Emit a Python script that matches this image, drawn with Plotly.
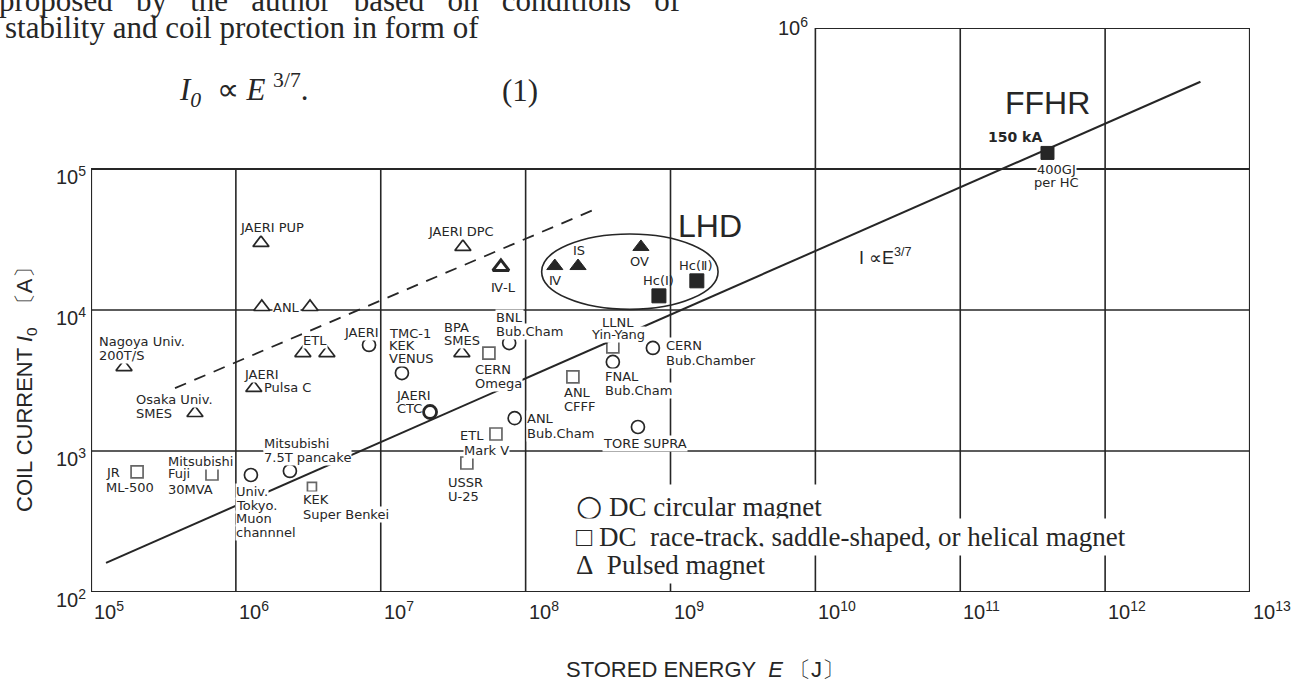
import numpy as np
import plotly.graph_objects as go

# ---------------- data ----------------
# DC circular magnets (open circles)
circ_names = ["JAERI", "TMC-1 KEK VENUS", "JAERI CTC", "BNL Bub.Cham", "FNAL Bub.Cham",
              "CERN Bub.Chamber", "ANL Bub.Cham", "TORE SUPRA", "Univ. Tokyo Muon channnel",
              "Mitsubishi 7.5T pancake"]
circ_E = [8.3e6, 1.40e7, 2.19e7, 7.7e7, 4.0e8, 7.56e8, 8.4e7, 5.96e8, 1.27e6, 2.36e6]
circ_I = [5650, 3570, 1890, 5830, 4280, 5380, 1710, 1480, 676, 722]

# DC race-track, saddle-shaped or helical magnets (open squares)
sq_names = ["CERN Omega", "LLNL Yin-Yang", "ANL CFFF", "ETL Mark V", "USSR U-25",
            "JR ML-500", "Mitsubishi Fuji 30MVA", "KEK Super Benkei"]
sq_E = [5.58e7, 4.0e8, 2.12e8, 6.24e7, 3.93e7, 2.08e5, 6.84e5, 3.35e6]
sq_I = [4950, 5470, 3350, 1320, 822, 710, 687, 556]

# Pulsed magnets (open triangles)
tri_names = ["Nagoya Univ. 200T/S", "Osaka Univ. SMES", "JAERI PUP", "ANL a", "ANL b",
             "ETL a", "ETL b", "JAERI Pulsa C", "JAERI DPC", "IV-L", "BPA SMES"]
tri_E = [1.69e5, 5.22e5, 1.49e6, 1.51e6, 3.25e6, 2.90e6, 4.25e6, 1.33e6, 3.69e7, 6.75e7, 3.63e7]
tri_I = [3940, 1860, 29900, 10500, 10500, 4950, 4950, 2800, 28000, 20200, 4950]

# LHD coils (filled)
lhd_tri_names = ["IV", "IS", "OV"]
lhd_tri_E = [1.59e8, 2.30e8, 6.25e8]
lhd_tri_I = [20500, 20500, 28000]
lhd_sq_names = ["Hc(I)", "Hc(II)"]
lhd_sq_E = [8.32e8, 1.52e9]
lhd_sq_I = [12600, 16100]

# FFHR
ffhr_E = [4.0e11]
ffhr_I = [1.3e5]

# guide lines
scaling_E = [1.27e5, 4.55e12]
scaling_I = [161, 4.16e5]
dashed_E = [3.8e5, 2.93e8]
dashed_I = [2790, 5.12e4]

# LHD group outline (E and I extent)
lhd_box_E = [1.29e8, 2.13e9]
lhd_box_I = [1.01e4, 3.46e4]

x_tick_exp = [5, 6, 7, 8, 9, 10, 11, 12, 13]
y_tick_exp = [2, 3, 4, 5]
y_top_exp = 6

# ---------------- style / layout ----------------
INK = "#262626"
LBL_FONT = "DejaVu Sans"
SANS = "Liberation Sans, Arial, sans-serif"
SERIF = "Liberation Serif, Times New Roman, serif"
W, H = 1294, 679
ML, MR, MT, MB = 91, 44, 28, 87
PW, PH = W - ML - MR, H - MT - MB


def px(x):  # pixel -> paper x
    return (x - ML) / PW


def py(y):  # pixel -> paper y
    return (H - MB - y) / PH


# label placement: name -> list of (text, xshift, yshift, xanchor)
LABELS = {
    "JAERI": [("JAERI", -26, 12, "left")],
    "TMC-1 KEK VENUS": [("TMC-1", -14, 40, "left"), ("KEK", -14, 28, "left"), ("VENUS", -14, 15, "left")],
    "JAERI CTC": [("JAERI", -35, 17, "left"), ("CTC", -7, 4, "right")],
    "BNL Bub.Cham": [("BNL", -14, 26, "left"), ("Bub.Cham", -14, 12, "left")],
    "FNAL Bub.Cham": [("FNAL", -9, -15, "left"), ("Bub.Cham", -9, -29, "left")],
    "CERN Bub.Chamber": [("CERN", 12, 2, "left"), ("Bub.Chamber", 12, -13, "left")],
    "ANL Bub.Cham": [("ANL", 11, 0, "left"), ("Bub.Cham", 11, -15, "left")],
    "TORE SUPRA": [("TORE SUPRA", -36, -17, "left")],
    "Univ. Tokyo Muon channnel": [("Univ.", -16, -17, "left"), ("Tokyo.", -16, -31, "left"),
                                  ("Muon", -16, -44, "left"), ("channnel", -16, -58, "left")],
    "Mitsubishi 7.5T pancake": [("Mitsubishi", -27, 27, "left"), ("7.5T pancake", -27, 13, "left")],
    "CERN Omega": [("CERN", -15, -16, "left"), ("Omega", -15, -30, "left")],
    "LLNL Yin-Yang": [("LLNL", 5, 24, "center"), ("Yin-Yang", 5, 12, "center")],
    "ANL CFFF": [("ANL", -10, -16, "left"), ("CFFF", -10, -30, "left")],
    "ETL Mark V": [("ETL", -11, -1, "right"), ("Mark V", -33, -16, "left")],
    "USSR U-25": [("USSR", -20, -19, "left"), ("U-25", -20, -33, "left")],
    "JR ML-500": [("JR", -32, -1, "left"), ("ML-500", -32, -16, "left")],
    "Mitsubishi Fuji 30MVA": [("Mitsubishi", -45, 12, "left"), ("Fuji", -45, 0, "left"),
                              ("30MVA", -45, -16, "left")],
    "KEK Super Benkei": [("KEK", -10, -13, "left"), ("Super Benkei", -10, -28, "left")],
    "Nagoya Univ. 200T/S": [("Nagoya Univ.", -26, 26, "left"), ("200T/S", -26, 12, "left")],
    "Osaka Univ. SMES": [("Osaka Univ.", -60, 14, "left"), ("SMES", -60, 0, "left")],
    "JAERI PUP": [("JAERI PUP", -22, 15, "left")],
    "ANL a": [("ANL", 10, 0, "left")],
    "ETL a": [("ETL", 12, 13, "center")],
    "JAERI Pulsa C": [("JAERI", -11, 13, "left"), ("Pulsa C", 9, 0, "left")],
    "JAERI DPC": [("JAERI DPC", -36, 15, "left")],
    "IV-L": [("\u2163-L", -11, -21, "left")],
    "BPA SMES": [("BPA", -19, 26, "left"), ("SMES", -19, 13, "left")],
    "IV": [("\u2163", -7, -14, "left")],
    "IS": [("IS", 1, 16, "center")],
    "OV": [("OV", -1, -15, "center")],
    "Hc(I)": [("Hc(\u2160)", 0, 15, "center")],
    "Hc(II)": [("Hc(\u2161)", -1, 15, "center")],
}
NO_BG = {"JAERI CTC", "IV", "IS", "OV", "Hc(I)", "Hc(II)"}

fig = go.Figure()

# guide lines
fig.add_trace(go.Scatter(x=scaling_E, y=scaling_I, mode="lines", hoverinfo="skip",
                         line=dict(color=INK, width=2), showlegend=False))
fig.add_trace(go.Scatter(x=dashed_E, y=dashed_I, mode="lines", hoverinfo="skip",
                         line=dict(color=INK, width=1.8, dash="12px,9px"), showlegend=False))


def add_markers(E, I, names, symbol, size, fill, lw):
    fig.add_trace(go.Scatter(
        x=E, y=I, mode="markers", text=names, hoverinfo="text+x+y", showlegend=False,
        cliponaxis=False,
        marker=dict(symbol=symbol, size=size, color=fill, line=dict(color=INK, width=lw))))


circ_lw = [2.8 if n == "JAERI CTC" else 1.7 for n in circ_names]
sq_size = [9 if n == "KEK Super Benkei" else 12 for n in sq_names]
tri_lw = [3.0 if n == "IV-L" else 1.7 for n in tri_names]
add_markers(circ_E, circ_I, circ_names, "circle", 13, "white", circ_lw)
add_markers(sq_E, sq_I, sq_names, "square", sq_size, "white", 1.7)
add_markers(tri_E, tri_I, tri_names, "triangle-up", 14, "white", tri_lw)
add_markers(lhd_tri_E, lhd_tri_I, lhd_tri_names, "triangle-up", 14, INK, 1)
add_markers(lhd_sq_E, lhd_sq_I, lhd_sq_names, "square", 14, INK, 1)
add_markers(ffhr_E, ffhr_I, ["FFHR"], "square", 13, INK, 1)

# ---------------- frame and grid as shapes ----------------
shapes = []


def seg(x0, y0, x1, y1, w=1.6):
    shapes.append(dict(type="line", xref="x", yref="y", x0=x0, y0=y0, x1=x1, y1=y1,
                       line=dict(color=INK, width=w), layer="below"))


xmin, xmax = 10.0 ** x_tick_exp[0], 10.0 ** x_tick_exp[-1]
ymin, ymid, ytop = 10.0 ** y_tick_exp[0], 10.0 ** y_tick_exp[-1], 10.0 ** y_top_exp
for n in x_tick_exp[1:-1]:
    seg(10.0 ** n, ymin, 10.0 ** n, ytop if n >= 10 else ymid)
for n in y_tick_exp[1:]:
    seg(xmin, 10.0 ** n, xmax, 10.0 ** n, 2.0 if n == y_tick_exp[-1] else 1.6)
seg(xmin, ymin, xmax, ymin, 2.2)
seg(xmin, ymin, xmin, ymid, 2.2)
seg(xmax, ymin, xmax, ytop, 2.2)
seg(10.0 ** 10, ytop, xmax, ytop, 2.2)
# LHD ellipse
shapes.append(dict(type="circle", xref="x", yref="y", x0=lhd_box_E[0], x1=lhd_box_E[1],
                   y0=lhd_box_I[0], y1=lhd_box_I[1], line=dict(color=INK, width=1.6),
                   layer="above"))

# ---------------- annotations ----------------
bg_ann, ann = [], []


def label(E, I, text, dx, dy, anchor="left", size=13, family=LBL_FONT, bg=True):
    base = dict(x=float(np.log10(E)), y=float(np.log10(I)), xref="x", yref="y",
                text=text, showarrow=False, xanchor=anchor, yanchor="middle",
                xshift=dx, yshift=dy, borderpad=0)
    if bg:  # white knock-out box drawn first, so lines break behind the text
        bg_ann.append(dict(base, bgcolor="white",
                           font=dict(family=family, size=size, color="rgba(0,0,0,0)")))
    ann.append(dict(base, font=dict(family=family, size=size, color=INK)))


for names, Es, Is in [(circ_names, circ_E, circ_I), (sq_names, sq_E, sq_I),
                      (tri_names, tri_E, tri_I), (lhd_tri_names, lhd_tri_E, lhd_tri_I),
                      (lhd_sq_names, lhd_sq_E, lhd_sq_I)]:
    for n, e, i in zip(names, Es, Is):
        for (t, dx, dy, anc) in LABELS.get(n, []):
            label(e, i, t, dx, dy, anc, bg=n not in NO_BG)

# LHD / FFHR headings
lhd_cE = 10 ** np.mean(np.log10(lhd_box_E))
lhd_cI = 10 ** np.mean(np.log10(lhd_box_I))
label(lhd_cE, lhd_cI, "LHD", 80, 46, "center", 32, SANS, bg=False)
label(ffhr_E[0], ffhr_I[0], "FFHR", 0, 50, "center", 32, SANS, bg=False)
label(ffhr_E[0], ffhr_I[0], "<b>150 kA</b>", -32, 16, "center", 14, LBL_FONT, bg=False)
label(ffhr_E[0], ffhr_I[0], "400GJ", 9, -17, "center", 13, LBL_FONT)
label(ffhr_E[0], ffhr_I[0], "per HC", 9, -30, "center", 13, LBL_FONT, bg=False)

# scaling law label
ann.append(dict(x=10.29, y=4.376, xref="x", yref="y", xanchor="left", yanchor="middle",
                showarrow=False, text="I \u221dE<sup>3/7</sup>",
                font=dict(family=SANS, size=18, color=INK)))

# tick labels
for n in x_tick_exp:
    ann.append(dict(x=n, y=py(610), xref="x", yref="paper", xanchor="left", yanchor="middle",
                    xshift=1, showarrow=False, text=f"10<sup>{n}</sup>",
                    font=dict(family=SANS, size=20, color=INK)))
for n in y_tick_exp:
    ann.append(dict(x=0, y=n, xref="paper", yref="y", xanchor="right", yanchor="middle",
                    xshift=-3, yshift=-6, showarrow=False, text=f"10<sup>{n}</sup>",
                    font=dict(family=SANS, size=20, color=INK)))
ann.append(dict(x=10, y=y_top_exp, xref="x", yref="y", xanchor="right", yanchor="middle",
                xshift=-5, yshift=2, showarrow=False, text=f"10<sup>{y_top_exp}</sup>",
                font=dict(family=SANS, size=20, color=INK)))

# axis titles
ann.append(dict(x=px(705), y=py(669), xref="paper", yref="paper", showarrow=False,
                xanchor="center", yanchor="middle",
                text="STORED ENERGY  <i>E</i> \u3014J\u3015",
                font=dict(family=SANS, size=22, color=INK)))
ann.append(dict(x=px(26), y=py(384), xref="paper", yref="paper", showarrow=False,
                xanchor="center", yanchor="middle", textangle=-90,
                text="COIL CURRENT <i>I</i><sub>0</sub>  \u3014A\u3015",
                font=dict(family=SANS, size=22, color=INK)))

# legend (symbol key)
SYM = "<span style='font-family:DejaVu Sans;font-size:30px'>{}</span>"
legend_lines = [SYM.format("\u25cb") + " DC circular magnet",
                "\u25a1 DC\u00a0 race-track, saddle-shaped, or helical magnet",
                "\u0394\u00a0 Pulsed magnet"]
for t, yy in zip(legend_lines, [505, 537, 565]):
    ann.append(dict(x=px(572), y=py(yy), xref="paper", yref="paper", showarrow=False,
                    xanchor="left", yanchor="middle", text=t, bgcolor="white", borderpad=3,
                    font=dict(family=SERIF, size=27, color=INK)))

# surrounding page text (first line is justified in the source page)
TOP = 31
JUST = " \u00a0\u00a0"
ann.append(dict(x=px(-3), y=py(0), xref="paper", yref="paper", showarrow=False,
                xanchor="left", yanchor="middle",
                text=JUST.join("proposed by the author based on conditions of".split(" ")),
                font=dict(family=SERIF, size=TOP, color=INK)))
ann.append(dict(x=px(3), y=py(27), xref="paper", yref="paper", showarrow=False,
                xanchor="left", yanchor="middle",
                text="stability and coil protection in form of",
                font=dict(family=SERIF, size=TOP, color=INK)))
ann.append(dict(x=px(177), y=py(90), xref="paper", yref="paper", showarrow=False,
                xanchor="left", yanchor="middle",
                text="<i>I</i><sub><i>0</i></sub>\u00a0 \u221d <i>E</i> <sup>3/7</sup>.",
                font=dict(family=SERIF, size=TOP, color=INK)))
ann.append(dict(x=px(500), y=py(90), xref="paper", yref="paper", showarrow=False,
                xanchor="left", yanchor="middle", text="(1)",
                font=dict(family=SERIF, size=TOP, color=INK)))

axis_common = dict(type="log", showgrid=False, zeroline=False, showline=False,
                   showticklabels=False, ticks="")
fig.update_layout(
    width=W, height=H, autosize=False,
    margin=dict(l=ML, r=MR, t=MT, b=MB, pad=0, autoexpand=False),
    paper_bgcolor="white", plot_bgcolor="white",
    xaxis=dict(range=[x_tick_exp[0], x_tick_exp[-1]], **axis_common),
    yaxis=dict(range=[y_tick_exp[0], y_top_exp], **axis_common),
    shapes=shapes, annotations=bg_ann + ann, showlegend=False,
)

fig.write_html("out.html", config={"displayModeBar": False},
               post_script="document.body.style.margin='0px';document.body.style.overflow='hidden';")
